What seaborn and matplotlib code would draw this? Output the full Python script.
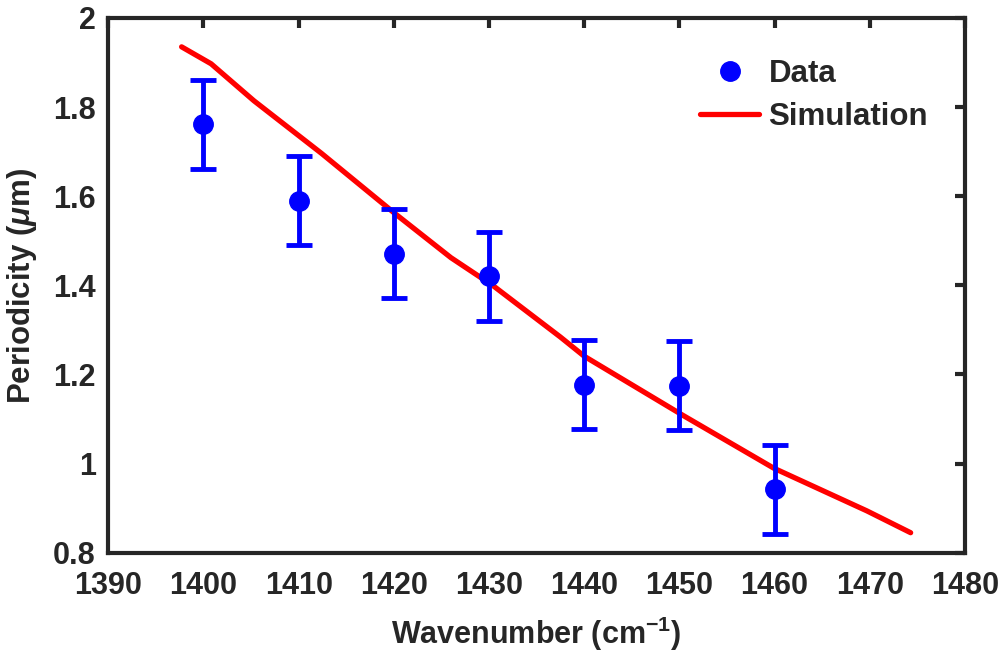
import numpy as np
import pandas as pd
import matplotlib
matplotlib.use('Agg')
import matplotlib.pyplot as plt
from matplotlib.lines import Line2D
import seaborn as sns

# measured points
wavenumber = [1400, 1410, 1420, 1430, 1440, 1450, 1460]
periodicity = [1.761, 1.590, 1.471, 1.420, 1.177, 1.175, 0.942]
period_err = [0.10, 0.10, 0.10, 0.10, 0.10, 0.10, 0.10]

# simulated curve
sim_wavenumber = [1397.7, 1400.8, 1405.3, 1412.4, 1420.0, 1426.0, 1430.5,
                  1437.5, 1440.0, 1450.4, 1459.9, 1469.7, 1474.3]
sim_periodicity = [1.935, 1.897, 1.814, 1.696, 1.563, 1.462, 1.398,
                   1.284, 1.241, 1.108, 0.990, 0.894, 0.845]

x_ticks = [1390, 1400, 1410, 1420, 1430, 1440, 1450, 1460, 1470, 1480]
y_ticks = [0.8, 1.0, 1.2, 1.4, 1.6, 1.8, 2.0]
y_tick_labels = ['0.8', '1', '1.2', '1.4', '1.6', '1.8', '2']

sns.set_theme(style='white')
plt.rcParams['font.family'] = ['Liberation Sans', 'DejaVu Sans']
plt.rcParams['font.weight'] = 'bold'
plt.rcParams['mathtext.fontset'] = 'custom'
plt.rcParams['mathtext.rm'] = 'Liberation Sans:bold'
plt.rcParams['mathtext.bf'] = 'Liberation Sans:bold'
plt.rcParams['mathtext.it'] = 'Liberation Sans:italic'

dark = '#262626'

fig = plt.figure(figsize=(10.03, 6.62), dpi=100)
ax = fig.add_axes([0.108, 0.165, 0.854, 0.808])

sim_df = pd.DataFrame({'x': sim_wavenumber, 'y': sim_periodicity})
sns.lineplot(data=sim_df, x='x', y='y', ax=ax, color='red', linewidth=3.8,
             sort=False, zorder=2)

ax.errorbar(wavenumber, periodicity, yerr=period_err, fmt='o', color='blue',
            ecolor='blue', markersize=14, elinewidth=3.5, capsize=9.5,
            capthick=3.5, zorder=3)

ax.set_xlim(1390, 1480)
ax.set_ylim(0.8, 2.0)
ax.set_xticks(x_ticks)
ax.set_yticks(y_ticks)
ax.set_yticklabels(y_tick_labels)
ax.tick_params(axis='both', direction='in', length=7, width=3, colors=dark,
               labelsize=22, top=True, right=True)
ax.tick_params(axis='x', pad=13)
ax.tick_params(axis='y', pad=9)
for lab in ax.get_xticklabels() + ax.get_yticklabels():
    lab.set_fontweight('bold')
for s in ax.spines.values():
    s.set_color(dark)
    s.set_linewidth(3)

ax.set_xlabel(r'Wavenumber (cm$^{\mathbf{-1}}$)', fontsize=22, fontweight='bold',
              color=dark, labelpad=10)
ax.set_ylabel(r'Periodicity ($\mu$m)', fontsize=22.5, fontweight='bold',
              color=dark, labelpad=10)

handles = [Line2D([], [], color='blue', marker='o', linestyle='none', markersize=14),
           Line2D([], [], color='red', linewidth=3.8)]
ax.legend(handles, ['Data', 'Simulation'], loc='upper right',
          bbox_to_anchor=(0.99, 0.975), frameon=False,
          prop={'size': 22.5, 'weight': 'bold'}, handlelength=1.9,
          handletextpad=0.3, labelspacing=0.4)

fig.savefig('out.png', dpi=100)
